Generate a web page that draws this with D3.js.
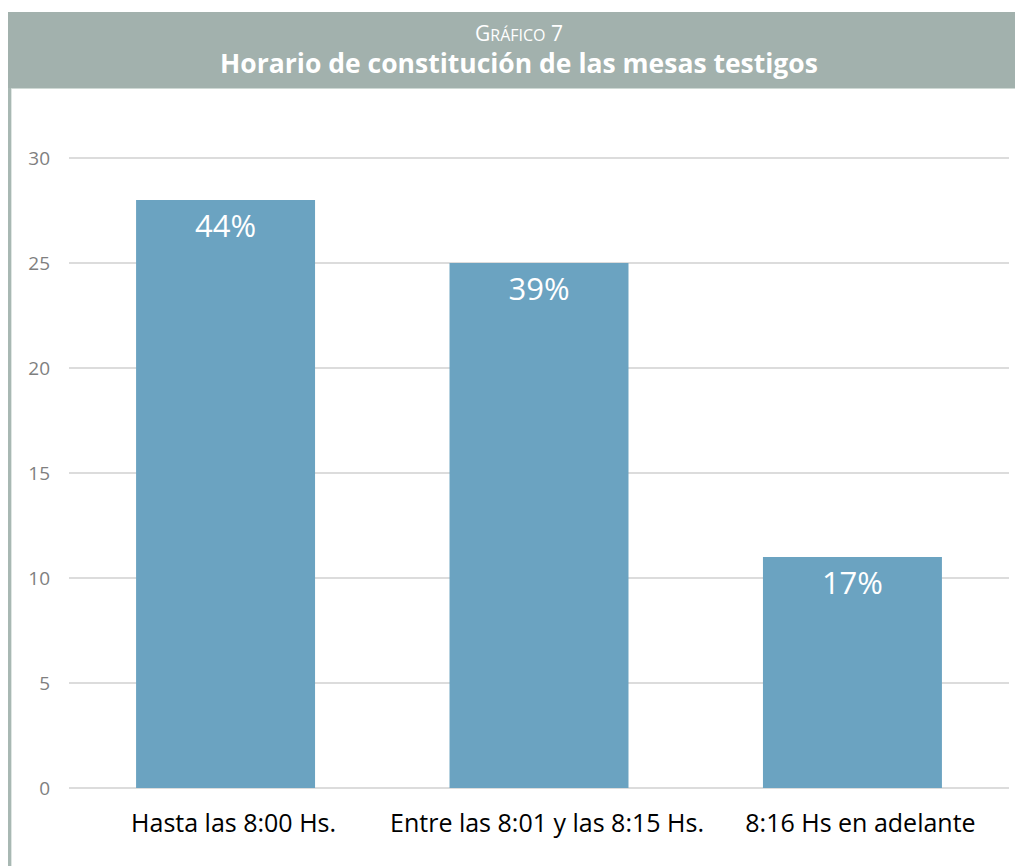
<!DOCTYPE html>
<html>
<head>
<meta charset="utf-8">
<script src="https://cdn.jsdelivr.net/npm/d3@7"></script>
<style>
  body { margin: 0; background: #fff; }
  svg { display: block; }
</style>
</head>
<body>
<div id="wrapper"></div>
<script>
const categories = ["Hasta las 8:00 Hs.", "Entre las 8:01 y las 8:15 Hs.", "8:16 Hs en adelante"];
const values = [28, 25, 11];
const percentLabels = ["44%", "39%", "17%"];
const yTicks = [0, 5, 10, 15, 20, 25, 30];

const data = categories.map((c, i) => ({ cat: c, value: values[i], pct: percentLabels[i] }));

const width = 1015;
const height = 866;
const margin = { top: 158, right: 6, bottom: 78, left: 69 };
const boundedWidth = width - margin.left - margin.right;
const boundedHeight = height - margin.top - margin.bottom;

const svg = d3.select("#wrapper")
  .append("svg")
  .attr("width", width)
  .attr("height", height);

// header band
svg.append("rect")
  .attr("x", 8).attr("y", 12)
  .attr("width", width - 8).attr("height", 76)
  .attr("fill", "#a2b1ad");
svg.append("line")
  .attr("x1", 11).attr("x2", width)
  .attr("y1", 88.5).attr("y2", 88.5)
  .attr("stroke", "#cfd9d5").attr("stroke-width", 1);
svg.append("line")
  .attr("x1", 9.5).attr("x2", 9.5)
  .attr("y1", 88).attr("y2", height)
  .attr("stroke", "#a8b8b3").attr("stroke-width", 3);
svg.append("line")
  .attr("x1", 11.5).attr("x2", 11.5)
  .attr("y1", 89).attr("y2", height)
  .attr("stroke", "#dfe6e3").attr("stroke-width", 1);

// small caps sub-title
const sub = svg.append("text")
  .attr("x", 519).attr("y", 41)
  .attr("text-anchor", "middle")
  .attr("fill", "#fff")
  .style("font-family", "'Open Sans', sans-serif");
sub.append("tspan").style("font-size", "21px").text("G");
sub.append("tspan").style("font-size", "16px").text("RÁFICO");
sub.append("tspan").style("font-size", "21px").text(" 7");

svg.append("text")
  .attr("x", 519).attr("y", 73)
  .attr("text-anchor", "middle")
  .attr("fill", "#fff")
  .style("font-family", "'Open Sans', sans-serif")
  .style("font-weight", "bold")
  .style("font-size", "26.5px")
  .text("Horario de constitución de las mesas testigos");

const bounds = svg.append("g")
  .attr("transform", `translate(${margin.left},${margin.top})`);

const xScale = d3.scaleBand()
  .domain(categories)
  .range([0, boundedWidth])
  .paddingInner(0.429)
  .paddingOuter(0.214);

const yScale = d3.scaleLinear()
  .domain([0, 30])
  .range([boundedHeight, 0]);

// gridlines
bounds.append("g")
  .selectAll("line")
  .data(yTicks)
  .join("line")
  .attr("x1", 0)
  .attr("x2", boundedWidth)
  .attr("y1", d => yScale(d))
  .attr("y2", d => yScale(d))
  .attr("stroke", "#dcdcdc")
  .attr("stroke-width", 2);

const yAxis = d3.axisLeft(yScale).tickValues(yTicks).tickSize(0).tickPadding(19);
const yAxisG = bounds.append("g").call(yAxis);
yAxisG.select(".domain").remove();
yAxisG.selectAll("text")
  .attr("fill", "#7f7f7f")
  .style("font-family", "'Open Sans', sans-serif")
  .style("font-size", "19px");

bounds.append("g")
  .selectAll("rect")
  .data(data)
  .join("rect")
  .attr("x", d => xScale(d.cat))
  .attr("y", d => yScale(d.value))
  .attr("width", xScale.bandwidth())
  .attr("height", d => boundedHeight - yScale(d.value))
  .attr("fill", "#6ba3c1");

bounds.append("g")
  .selectAll("text")
  .data(data)
  .join("text")
  .attr("x", d => xScale(d.cat) + xScale.bandwidth() / 2)
  .attr("y", d => yScale(d.value) + 37)
  .attr("text-anchor", "middle")
  .attr("fill", "#fff")
  .style("font-family", "'Open Sans', sans-serif")
  .style("font-size", "31px")
  .text(d => d.pct);

const xAxis = d3.axisBottom(xScale).tickSize(0).tickPadding(0);
const xAxisG = bounds.append("g")
  .attr("transform", `translate(0,${boundedHeight})`)
  .call(xAxis);
xAxisG.select(".domain").remove();
xAxisG.selectAll("text")
  .attr("y", 44)
  .attr("dy", 0)
  .attr("dx", 8)
  .attr("fill", "#000")
  .style("font-family", "'Open Sans', sans-serif")
  .style("font-size", "25px");
</script>
</body>
</html>
